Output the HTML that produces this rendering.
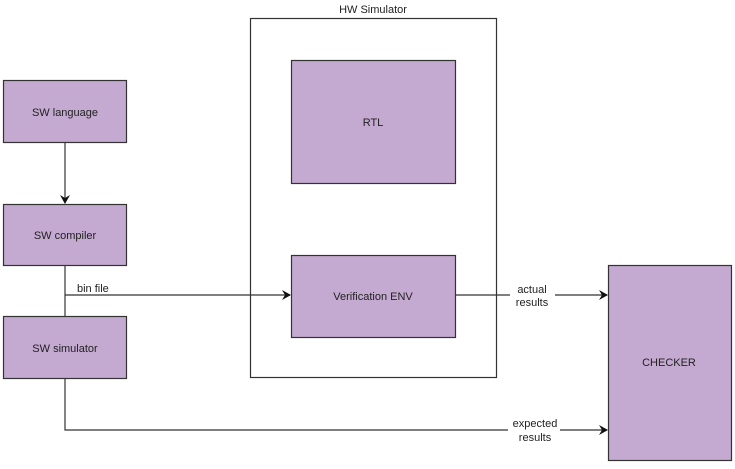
<!DOCTYPE html>
<html><head><style>body{margin:0;background:#fff}</style></head><body>
<svg width="735" height="464" xmlns="http://www.w3.org/2000/svg" font-family="Liberation Sans, sans-serif" font-size="11" fill="#222">
<defs><marker id="a" markerWidth="10" markerHeight="10" refX="8" refY="5" orient="auto" markerUnits="userSpaceOnUse"><path d="M0,0 L9,5 L0,10 L3,5 z" fill="#111"/></marker></defs>
<g stroke="#333" stroke-width="1.2" fill="#c4a9d0">
<rect x="3.5" y="80.5" width="123" height="62"/>
<rect x="3.5" y="204.5" width="123" height="61"/>
<rect x="3.5" y="316.5" width="123" height="62"/>
<rect x="250.5" y="18.5" width="246" height="359" fill="none"/>
<rect x="291.5" y="60.5" width="164" height="123"/>
<rect x="291.5" y="255.5" width="164" height="82"/>
<rect x="608.5" y="265.5" width="123" height="195"/>
</g>
<g stroke="#333" stroke-width="1.2" fill="none">
<line x1="65" y1="142" x2="65" y2="203" marker-end="url(#a)"/>
<line x1="65" y1="266" x2="65" y2="316"/>
<line x1="65" y1="295" x2="290" y2="295" marker-end="url(#a)"/>
<line x1="455" y1="295" x2="510" y2="295"/>
<line x1="555" y1="295" x2="607" y2="295" marker-end="url(#a)"/>
<polyline points="65,378 65,430 508,430"/>
<line x1="560" y1="430" x2="607" y2="430" marker-end="url(#a)"/>
</g>
<g text-anchor="middle">
<text x="65" y="116">SW language</text>
<text x="65" y="239">SW compiler</text>
<text x="65" y="352">SW simulator</text>
<text x="373" y="13">HW Simulator</text>
<text x="373" y="126">RTL</text>
<text x="373" y="300">Verification ENV</text>
<text x="669" y="366">CHECKER</text>
<text x="532" y="293">actual</text>
<text x="532" y="306">results</text>
<text x="535" y="427">expected</text>
<text x="535" y="441">results</text>
</g>
<text x="77" y="292">bin file</text>
</svg>
</body></html>
